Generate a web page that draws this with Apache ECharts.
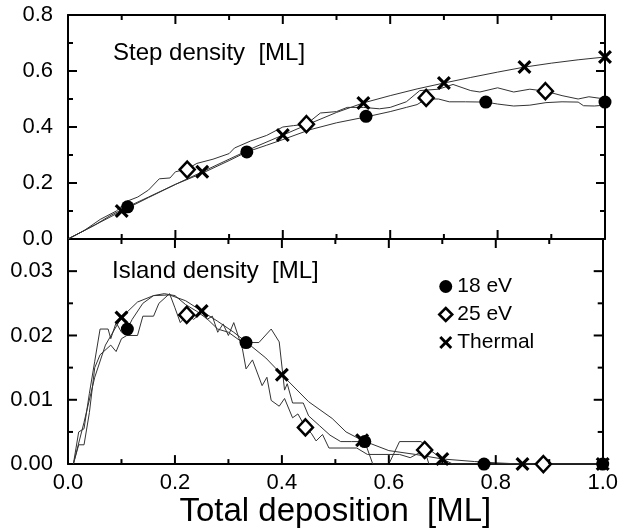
<!DOCTYPE html>
<html>
<head>
<meta charset="utf-8">
<script src="https://cdn.jsdelivr.net/npm/echarts@6/dist/echarts.min.js"></script>
<style>
html,body{margin:0;padding:0;background:#fff;}
#chart{width:621px;height:529px;}
</style>
</head>
<body>
<div id="chart"></div>
<script>
// ---- Data (x = total deposition [ML]) ----
// Top panel: step density [ML]
const topLine18 = [[0,0],[0.02,0.02],[0.05,0.05],[0.08,0.085],[0.111,0.115],[0.15,0.15],[0.2,0.195],[0.25,0.235],[0.3,0.28],[0.333,0.311],[0.37,0.335],[0.4,0.355],[0.45,0.39],[0.5,0.415],[0.555,0.436],[0.6,0.455],[0.63,0.47],[0.65,0.48],[0.667,0.5],[0.69,0.5],[0.71,0.49],[0.74,0.49],[0.778,0.489],[0.8,0.482],[0.83,0.475],[0.86,0.478],[0.89,0.487],[0.92,0.49],[0.95,0.489],[0.96,0.476],[0.98,0.475],[1.0,0.478]];
const topLine25 = [[0,0],[0.03,0.03],[0.06,0.07],[0.09,0.1],[0.11,0.135],[0.13,0.15],[0.15,0.175],[0.17,0.215],[0.19,0.218],[0.2,0.24],[0.222,0.25],[0.24,0.27],[0.27,0.285],[0.3,0.305],[0.31,0.325],[0.34,0.35],[0.37,0.37],[0.4,0.4],[0.42,0.405],[0.444,0.41],[0.47,0.45],[0.5,0.455],[0.52,0.47],[0.55,0.47],[0.58,0.465],[0.6,0.47],[0.63,0.49],[0.655,0.53],[0.69,0.535],[0.717,0.552],[0.75,0.53],[0.767,0.525],[0.8,0.54],[0.83,0.525],[0.86,0.535],[0.889,0.528],[0.92,0.512],[0.95,0.5],[0.97,0.508],[1.0,0.5]];
const topLineThermal = [[0,0],[0.05,0.05],[0.1,0.1],[0.15,0.148],[0.2,0.195],[0.25,0.24],[0.3,0.285],[0.35,0.33],[0.4,0.371],[0.45,0.412],[0.5,0.452],[0.55,0.486],[0.6,0.512],[0.65,0.536],[0.7,0.557],[0.75,0.577],[0.8,0.596],[0.85,0.614],[0.9,0.628],[0.95,0.64],[1.0,0.65]];
const topMark18 = [[0.111,0.115],[0.333,0.311],[0.555,0.438],[0.778,0.489],[1.0,0.489]];
const topMark25 = [[0.222,0.248],[0.444,0.41],[0.667,0.504],[0.889,0.528]];
const topMarkThermal = [[0.1,0.1],[0.25,0.24],[0.4,0.371],[0.55,0.486],[0.7,0.557],[0.85,0.614],[1.0,0.65]];

// Bottom panel: island density [ML]
const botLine18 = [[0.01,0],[0.02,0.005],[0.03,0.0055],[0.04,0.011],[0.05,0.016],[0.06,0.021],[0.075,0.021],[0.08,0.0195],[0.09,0.022],[0.1,0.0205],[0.111,0.021],[0.12,0.0225],[0.14,0.025],[0.16,0.0262],[0.18,0.0265],[0.2,0.0262],[0.22,0.0248],[0.24,0.0238],[0.26,0.0226],[0.28,0.021],[0.3,0.0205],[0.32,0.0193],[0.333,0.0189],[0.357,0.0189],[0.38,0.021],[0.395,0.019],[0.405,0.0115],[0.41,0.0125],[0.42,0.0095],[0.44,0.0095],[0.45,0.0075],[0.47,0.006],[0.49,0.0045],[0.51,0.0035],[0.53,0.0035],[0.555,0.0035],[0.57,0],[0.6,0],[0.62,0.0035],[0.66,0.0035],[0.68,0.002],[0.7,0.0008],[0.72,0],[1.0,0]];
const botLine25 = [[0.01,0],[0.02,0.003],[0.03,0.003],[0.04,0.008],[0.05,0.015],[0.06,0.017],[0.08,0.0185],[0.09,0.0175],[0.1,0.0195],[0.11,0.02],[0.13,0.02],[0.14,0.023],[0.16,0.023],[0.17,0.025],[0.19,0.0265],[0.2,0.0243],[0.21,0.022],[0.222,0.0232],[0.235,0.0225],[0.25,0.0236],[0.26,0.0225],[0.27,0.023],[0.28,0.0205],[0.29,0.0218],[0.3,0.02],[0.31,0.022],[0.32,0.0195],[0.326,0.018],[0.333,0.0148],[0.345,0.0162],[0.363,0.0122],[0.372,0.0135],[0.38,0.0099],[0.395,0.009],[0.405,0.0102],[0.42,0.0072],[0.43,0.0078],[0.444,0.0057],[0.455,0.0048],[0.464,0.0036],[0.476,0.0046],[0.488,0.0025],[0.54,0.0025],[0.56,0.0015],[0.62,0.0015],[0.64,0.001],[0.667,0.0022],[0.675,0],[1.0,0]];
const botLineThermal = [[0.01,0],[0.03,0.0065],[0.05,0.0135],[0.07,0.0185],[0.1,0.0228],[0.13,0.0252],[0.16,0.0262],[0.19,0.0263],[0.22,0.0254],[0.25,0.0238],[0.28,0.0222],[0.31,0.0205],[0.333,0.019],[0.37,0.0165],[0.4,0.0139],[0.45,0.0097],[0.494,0.0071],[0.52,0.005],[0.55,0.0037],[0.6,0.0021],[0.65,0.0015],[0.7,0.0008],[0.76,0.0004],[0.8,0.0002],[0.85,0],[1.0,0]];
const botMark18 = [[0.111,0.021],[0.333,0.0189],[0.555,0.0035],[0.778,0],[1.0,0]];
const botMark25 = [[0.222,0.0232],[0.444,0.0057],[0.667,0.0022],[0.889,0]];
const botMarkThermal = [[0.1,0.0228],[0.25,0.0238],[0.4,0.0139],[0.55,0.0037],[0.7,0.0008],[0.85,0],[1.0,0]];

// Tick positions (axis values)
const xMajorTicks = [0.2, 0.4, 0.6, 0.8];
const xMinorTicks = [0.1, 0.3, 0.5, 0.7, 0.9];
const topYMajorTicks = [0.2, 0.4, 0.6];
const topYMinorTicks = [0.1, 0.3, 0.5, 0.7];
const botYMajorTicks = [0.01, 0.02, 0.03];
const botYMinorTicks = [0.005, 0.015, 0.025];

const seriesNames = ['18 eV', '25 eV', 'Thermal'];
const panelLabels = ['Step density  [ML]', 'Island density  [ML]'];
const xTitle = 'Total deposition  [ML]';

// ---- Styling ----
const FONT = '"Liberation Sans", Arial, Helvetica, sans-serif';
const XPATH = 'path://M0,1.6L1.6,0L5,3.4L8.4,0L10,1.6L6.6,5L10,8.4L8.4,10L5,6.6L1.6,10L0,8.4L3.4,5Z';
const MAJOR = 9, MINOR = 5;

function xAx(grid, pos, labels) {
  const a = {type:'value', gridIndex:grid, position:pos, min:0, max:1, interval:0.2,
    axisLine:{show:true, onZero:false, lineStyle:{color:'#000', width:2}},
    axisTick:{show:false}, minorTick:{show:false}, splitLine:{show:false},
    axisLabel:{show:labels, color:'#000', fontSize:22, fontFamily:FONT, margin:8,
      formatter:v=>v.toFixed(1)}};
  if (labels) {
    a.name = xTitle; a.nameLocation = 'middle'; a.nameGap = 28;
    a.nameTextStyle = {fontSize:33, fontFamily:FONT, color:'#000'};
  }
  return a;
}
function yAx(grid, pos, labels, max, interval, dec) {
  return {type:'value', gridIndex:grid, position:pos, min:0, max:max, interval:interval,
    axisLine:{show:true, onZero:false, lineStyle:{color:'#000', width:2}},
    axisTick:{show:false}, minorTick:{show:false}, splitLine:{show:false},
    axisLabel:{show:labels, color:'#000', fontSize:22, fontFamily:FONT, margin:15,
      formatter:v=>v.toFixed(dec), showMaxLabel: max===0.8}};
}
function lineS(data, xi, yi) {
  return {type:'line', data, xAxisIndex:xi, yAxisIndex:yi, symbol:'none',
    lineStyle:{color:'#333', width:1}, silent:true, z:2};
}
function markStyle(name){
  if (name==='18 eV') return {symbol:'circle', symbolSize:13, itemStyle:{color:'#000', opacity:1}};
  if (name==='25 eV') return {symbol:'diamond', symbolSize:[15,16], itemStyle:{color:'#fff', borderColor:'#000', borderWidth:2.5, opacity:1}};
  return {symbol:XPATH, symbolSize:14, itemStyle:{color:'#000', opacity:1}};
}
function markS(name, data, xi, yi) {
  return Object.assign({type:'scatter', name, data, xAxisIndex:xi, yAxisIndex:yi, clip:false, z:5}, markStyle(name));
}
// Inward tick marks as thin rect symbols placed at tick values through the axes' scales
function tickS(data, xi, yi, size, offset) {
  return {type:'scatter', name:'_tick', data, xAxisIndex:xi, yAxisIndex:yi, symbol:'rect',
    symbolSize:size, symbolOffset:offset, clip:false, silent:true, z:6,
    itemStyle:{color:'#000', opacity:1}, emphasis:{disabled:true}};
}
function panelTicks(xi, yi, yMax, yMaj, yMin) {
  const out = [];
  [[xMajorTicks, MAJOR], [xMinorTicks, MINOR]].forEach(([vals, len]) => {
    out.push(tickS(vals.map(v=>[v,0]), xi, yi, [2,len], [0,-len/2]));
    out.push(tickS(vals.map(v=>[v,yMax]), xi, yi, [2,len], [0,len/2]));
  });
  [[yMaj, MAJOR], [yMin, MINOR]].forEach(([vals, len]) => {
    out.push(tickS(vals.map(v=>[0,v]), xi, yi, [len,2], [len/2,0]));
    out.push(tickS(vals.map(v=>[1,v]), xi, yi, [len,2], [-len/2,0]));
  });
  return out;
}

const option = {
  animation:false,
  backgroundColor:'#fff',
  grid:[
    {left:68, right:16, top:15, height:224},
    {left:68, right:16, top:239, height:227}
  ],
  xAxis:[xAx(0,'bottom',false), xAx(0,'top',false), xAx(1,'bottom',true), xAx(1,'top',false)],
  yAxis:[yAx(0,'left',true,0.8,0.2,1), yAx(0,'right',false,0.8,0.2,1),
         yAx(1,'left',true,0.035,0.01,2), yAx(1,'right',false,0.035,0.01,2)],
  legend:{
    orient:'vertical', left:438, top:276, padding:0, itemWidth:13, itemHeight:13, itemGap:7,
    textStyle:{fontSize:21, fontFamily:FONT, color:'#000'},
    data:[
      {name:seriesNames[0], icon:'circle', itemStyle:{color:'#000', opacity:1}},
      {name:seriesNames[1], icon:'diamond', itemStyle:{color:'#fff', borderColor:'#000', borderWidth:2.5, opacity:1}},
      {name:seriesNames[2], icon:XPATH, itemStyle:{color:'#000', opacity:1}}
    ]
  },
  graphic:[
    {type:'text', left:113, top:41, style:{text:panelLabels[0], fontSize:24, fontFamily:FONT, fill:'#000'}},
    {type:'text', left:112, top:259, style:{text:panelLabels[1], fontSize:24, fontFamily:FONT, fill:'#000'}}
  ],
  series:[
    lineS(topLine18,0,0), lineS(topLine25,0,0), lineS(topLineThermal,0,0),
    lineS(botLine18,2,2), lineS(botLine25,2,2), lineS(botLineThermal,2,2),
    markS('18 eV', topMark18,0,0), markS('25 eV', topMark25,0,0), markS('Thermal', topMarkThermal,0,0),
    markS('18 eV', botMark18,2,2), markS('25 eV', botMark25,2,2), markS('Thermal', botMarkThermal,2,2)
  ].concat(panelTicks(0,0,0.8, topYMajorTicks, topYMinorTicks), panelTicks(2,2,0.035, botYMajorTicks, botYMinorTicks))
};
const chart = echarts.init(document.getElementById('chart'), null, {renderer:'canvas'});
chart.setOption(option);
</script>
</body>
</html>
